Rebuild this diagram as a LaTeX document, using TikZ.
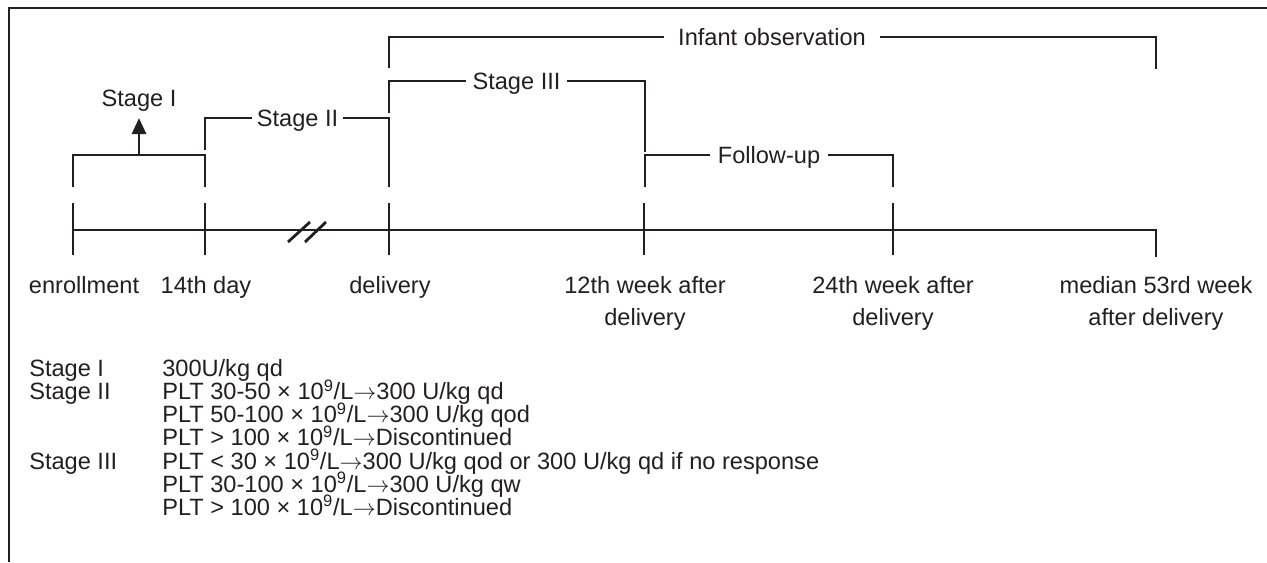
\documentclass[tikz,border=0pt]{standalone}
\usepackage{fontspec}
\setmainfont{Liberation Sans}
\usetikzlibrary{arrows.meta}
\definecolor{ink}{RGB}{35,31,32}
\newcommand{\ra}{\ensuremath{\rightarrow}}
\begin{document}
\begin{tikzpicture}[x=0.75pt,y=-0.75pt,
  every node/.style={font=\fontsize{17.7}{21}\selectfont, text=ink, inner sep=0pt},
  txt/.style={text height=12.9pt, text depth=0pt, anchor=center},
  row/.style={text height=12.9pt, text depth=0pt, anchor=west},
  frame/.style={draw=ink, line width=2.1pt},
  axis/.style={draw=ink, line width=2.1pt},
  tick/.style={draw=ink, line width=2.1pt},
  brk/.style={draw=ink, line width=1.4pt},
  brkarrow/.style={draw=ink, line width=2pt, -{Triangle[length=12pt,width=10.5pt]}}]
\useasboundingbox (0,0) rectangle (1267,562);
% frame
\coordinate (f1) at (1267,8);
\coordinate (f2) at (9,8);
\coordinate (f3) at (9,562);
\draw[frame] (f1) -- (f2) -- (f3);
% timeline
\coordinate (t1) at (73,230);
\coordinate (t2) at (205,230);
\coordinate (t3) at (389,230);
\coordinate (t4) at (644,230);
\coordinate (t5) at (893,230);
\coordinate (t6) at (1156,230);
\coordinate (t6b) at (1156,257);
\draw[axis, line join=miter] (t1) -- (t6) -- (t6b);
\foreach \c in {t1,t2,t3,t4,t5}{
  \draw[tick] ([yshift=-25*0.75pt]\c) -- ([yshift=27*0.75pt]\c);
}
% break marks
\coordinate (b1a) at (288,242); \coordinate (b1b) at (310,222);
\coordinate (b2a) at (305,242); \coordinate (b2b) at (326,222);
\draw[tick] (b1a) -- (b1b);
\draw[tick] (b2a) -- (b2b);
% time labels
\node[txt] (l1) at (84,285) {enrollment};
\node[txt] (l2) at (206,285) {14th day};
\node[txt] (l3) at (390,285) {delivery};
\node[txt] (l4) at (645,285) {12th week after};
\node[txt] (l4b) at (645,317) {delivery};
\node[txt] (l5) at (893,285) {24th week after};
\node[txt] (l5b) at (893,317) {delivery};
\node[txt] (l6) at (1156,285) {median 53rd week};
\node[txt] (l6b) at (1156,317) {after delivery};
% Stage I bracket
\coordinate (s1a) at (73,187); \coordinate (s1b) at (73,155);
\coordinate (s1c) at (205,155); \coordinate (s1d) at (205,187);
\draw[brk] (s1a) -- (s1b) -- (s1c) -- (s1d);
\coordinate (s1m) at (139,155);
\coordinate (s1t) at (139,118);
\draw[brkarrow] (s1m) -- (s1t);
\node[txt] (sI) at (139,98) {Stage I};
% Stage II
\node[txt, inner xsep=3.5pt] (sII) at (297.5,118) {Stage II};
\coordinate (s2a) at (205,150); \coordinate (s2b) at (205,118);
\coordinate (s2c) at (389,118); \coordinate (s2d) at (389,187);
\draw[brk] (s2a) -- (s2b) -- (sII.west);
\draw[brk] (sII.east) -- (s2c) -- (s2d);
% Stage III
\node[txt, inner xsep=5pt] (sIII) at (516.5,81) {Stage III};
\coordinate (s3a) at (389,113); \coordinate (s3b) at (389,81);
\coordinate (s3c) at (645,81); \coordinate (s3d) at (645,152);
\draw[brk] (s3a) -- (s3b) -- (sIII.west);
\draw[brk] (sIII.east) -- (s3c) -- (s3d);
% Follow-up
\node[txt, inner xsep=5.5pt] (fu) at (769,155) {Follow-up};
\coordinate (fa) at (645,187); \coordinate (fb) at (645,155);
\coordinate (fc) at (893,155); \coordinate (fd) at (893,187);
\draw[brk] (fa) -- (fb) -- (fu.west);
\draw[brk] (fu.east) -- (fc) -- (fd);
% Infant observation
\node[txt, inner xsep=10.5pt] (io) at (772,37) {Infant observation};
\coordinate (ia) at (389,68); \coordinate (ib) at (389,37);
\coordinate (ic) at (1156,37); \coordinate (id) at (1156,69);
\draw[brk] (ia) -- (ib) -- (io.west);
\draw[brk] (io.east) -- (ic) -- (id);
% legend
\node[row] (k1) at (29,368) {Stage I};
\node[row] (k2) at (29,391.1) {Stage II};
\node[row] (k3) at (29,460.4) {Stage III};
\node[row] (r1) at (162,368) {300U/kg qd};
\node[row] (r2) at (162,391.1) {PLT 30-50 × 10\textsuperscript{9}/L\ra300 U/kg qd};
\node[row] (r3) at (162,414.2) {PLT 50-100 × 10\textsuperscript{9}/L\ra300 U/kg qod};
\node[row] (r4) at (162,437.3) {PLT > 100 × 10\textsuperscript{9}/L\ra Discontinued};
\node[row] (r5) at (162,460.4) {PLT < 30 × 10\textsuperscript{9}/L\ra300 U/kg qod or 300 U/kg qd if no response};
\node[row] (r6) at (162,483.5) {PLT 30-100 × 10\textsuperscript{9}/L\ra300 U/kg qw};
\node[row] (r7) at (162,506.6) {PLT > 100 × 10\textsuperscript{9}/L\ra Discontinued};
\end{tikzpicture}
\end{document}
